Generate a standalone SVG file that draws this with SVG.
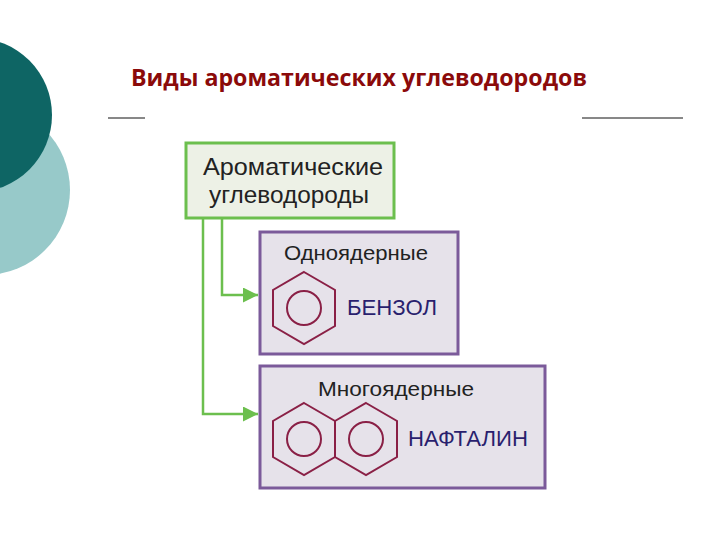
<svg xmlns="http://www.w3.org/2000/svg" width="720" height="540" viewBox="0 0 720 540">
<defs>
<style>
.t{font-family:"Liberation Sans",Arial,sans-serif;fill:#222}
.ring{fill:none;stroke:#8a2046;stroke-width:2}
.pbox{fill:#e6e2ea;stroke:#7b5a9a;stroke-width:3}
.conn{fill:none;stroke:#6cbf4e;stroke-width:2.5}
.name{font-family:"Liberation Sans",Arial,sans-serif;fill:#2a1f6e;font-size:22px}
</style>
<marker id="ah" viewBox="0 0 10 10" refX="10" refY="5" markerWidth="7" markerHeight="6" orient="auto" markerUnits="strokeWidth">
<path d="M0,0 L10,5 L0,10 z" fill="#6cbf4e"/>
</marker>
</defs>
<rect width="720" height="540" fill="#fff"/>
<circle cx="-15" cy="190" r="85" fill="#97c9c9"/>
<circle cx="-25" cy="115" r="77" fill="#0e6564"/>
<text x="359" y="86" text-anchor="middle" font-family="'Open Sans','Liberation Sans',sans-serif" font-weight="bold" font-size="23" fill="#8b0a0a" textLength="456" lengthAdjust="spacingAndGlyphs">Виды ароматических углеводородов</text>
<line x1="108" y1="118" x2="145" y2="118" stroke="#111" stroke-width="1"/>
<line x1="582" y1="118" x2="683" y2="118" stroke="#111" stroke-width="1"/>
<g id="connectors">
<path class="conn" d="M222,218 V295 H258" marker-end="url(#ah)"/>
<path class="conn" d="M203,218 V414 H258" marker-end="url(#ah)"/>
</g>
<g id="root">
<rect x="186" y="143" width="208" height="75" fill="#edf1e6" stroke="#6cbf4e" stroke-width="3"/>
<text class="t" x="293" y="175" text-anchor="middle" font-size="24" textLength="180" lengthAdjust="spacingAndGlyphs">Ароматические</text>
<text class="t" x="289" y="203" text-anchor="middle" font-size="24" textLength="160" lengthAdjust="spacingAndGlyphs">углеводороды</text>
</g>
<g id="mono">
<rect class="pbox" x="260" y="232" width="198" height="122"/>
<text class="t" x="356" y="260" text-anchor="middle" font-size="21" textLength="144" lengthAdjust="spacingAndGlyphs">Одноядерные</text>
<polygon class="ring" points="304,272 335,290 335,326 304,344 273,326 273,290"/>
<circle class="ring" cx="304" cy="308" r="17"/>
<text class="name" x="347" y="315" textLength="90" lengthAdjust="spacingAndGlyphs">БЕНЗОЛ</text>
</g>
<g id="poly">
<rect class="pbox" x="260" y="366" width="285" height="122"/>
<text class="t" x="396" y="396" text-anchor="middle" font-size="21" textLength="156" lengthAdjust="spacingAndGlyphs">Многоядерные</text>
<polygon class="ring" points="304,403 335,421 335,457 304,475 273,457 273,421"/>
<circle class="ring" cx="304" cy="439" r="17"/>
<polygon class="ring" points="366,403 397,421 397,457 366,475 335,457 335,421"/>
<circle class="ring" cx="366" cy="439" r="17"/>
<text class="name" x="408" y="446" textLength="120" lengthAdjust="spacingAndGlyphs">НАФТАЛИН</text>
</g>
</svg>
